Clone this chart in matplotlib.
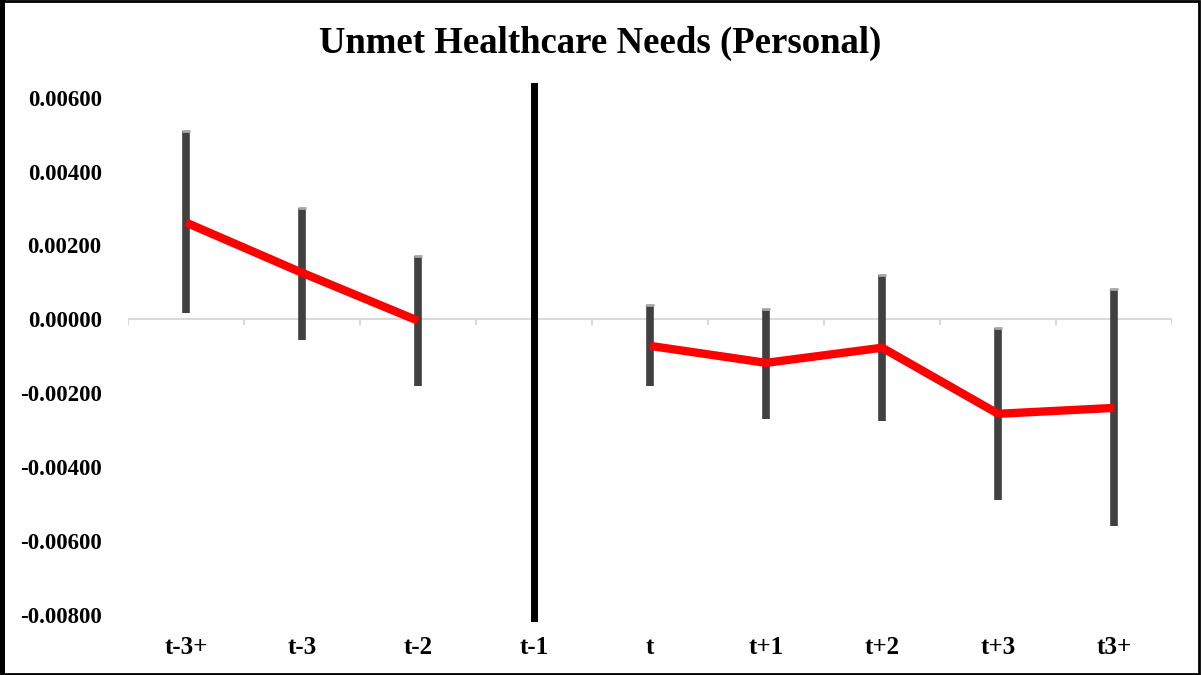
import matplotlib.pyplot as plt
import numpy as np
from matplotlib.patches import Rectangle

# data
periods = ['t-3+', 't-3', 't-2', 't-1', 't', 't+1', 't+2', 't+3', 't3+']
coef = [0.00262, 0.00126, -0.00004, np.nan, -0.00072, -0.00118, -0.00077, -0.00256, -0.00240]
ci_low = [0.00018, -0.00056, -0.00180, np.nan, -0.00180, -0.00270, -0.00275, -0.00490, -0.00560]
ci_high = [0.00511, 0.00302, 0.00172, np.nan, 0.00039, 0.00028, 0.00120, -0.00023, 0.00083]
ref_period = 't-1'
yticks = [0.006, 0.004, 0.002, 0.0, -0.002, -0.004, -0.006, -0.008]

plt.rcParams['font.family'] = ['Liberation Serif', 'DejaVu Serif']
plt.rcParams['font.weight'] = 'bold'

fig = plt.figure(figsize=(12.01, 6.75), dpi=100)
ax = fig.add_axes([0.1066, 0.0785, 0.8694, 0.7985])

x = np.arange(len(periods))
coef = np.array(coef)
ci_low = np.array(ci_low)
ci_high = np.array(ci_high)

# zero line and small category ticks
ax.axhline(0, color='#d9d9d9', lw=1.5, zorder=1)
ax.vlines(np.arange(-0.5, len(periods)), 0, -0.00016, color='#d9d9d9', lw=1.5, zorder=1)

# confidence intervals
ax.vlines(x, ci_low, ci_high, color='#404040', lw=5.5, zorder=2)
ax.scatter(x, ci_high, marker='_', s=30, color='#a6a6a6', lw=2, zorder=3)

# point estimates (gap at reference period)
ax.plot(x, coef, color='#ff0000', lw=6, solid_capstyle='butt', zorder=4)

# reference period marker
ax.axvline(periods.index(ref_period), color='black', lw=5, zorder=5)

ax.set_xlim(-0.5, len(periods) - 0.5)
ax.set_ylim(-0.0082, 0.0064)
ax.set_yticks(yticks)
ax.set_yticklabels([f'{v:.5f}' for v in yticks], fontsize=16.5, fontweight='bold')
ax.set_xticks(x)
ax.set_xticklabels(periods, fontsize=18, fontweight='bold')
ax.tick_params(axis='both', length=0)
ax.tick_params(axis='y', pad=19)
ax.tick_params(axis='x', pad=10)
for s in ax.spines.values():
    s.set_visible(False)

fig.text(0.5, 1 - 43 / 675, 'Unmet Healthcare Needs (Personal)', fontsize=26.5,
         fontweight='bold', ha='center', va='center')

fig.patches.append(Rectangle((0.002, 0.002), 0.996, 0.996, transform=fig.transFigure,
                             fill=False, edgecolor='black', lw=2))
fig.patches.append(Rectangle((0.0, 0.0), 0.004, 1.0, transform=fig.transFigure,
                             color='black', lw=0))

fig.savefig('out.png', dpi=100)
